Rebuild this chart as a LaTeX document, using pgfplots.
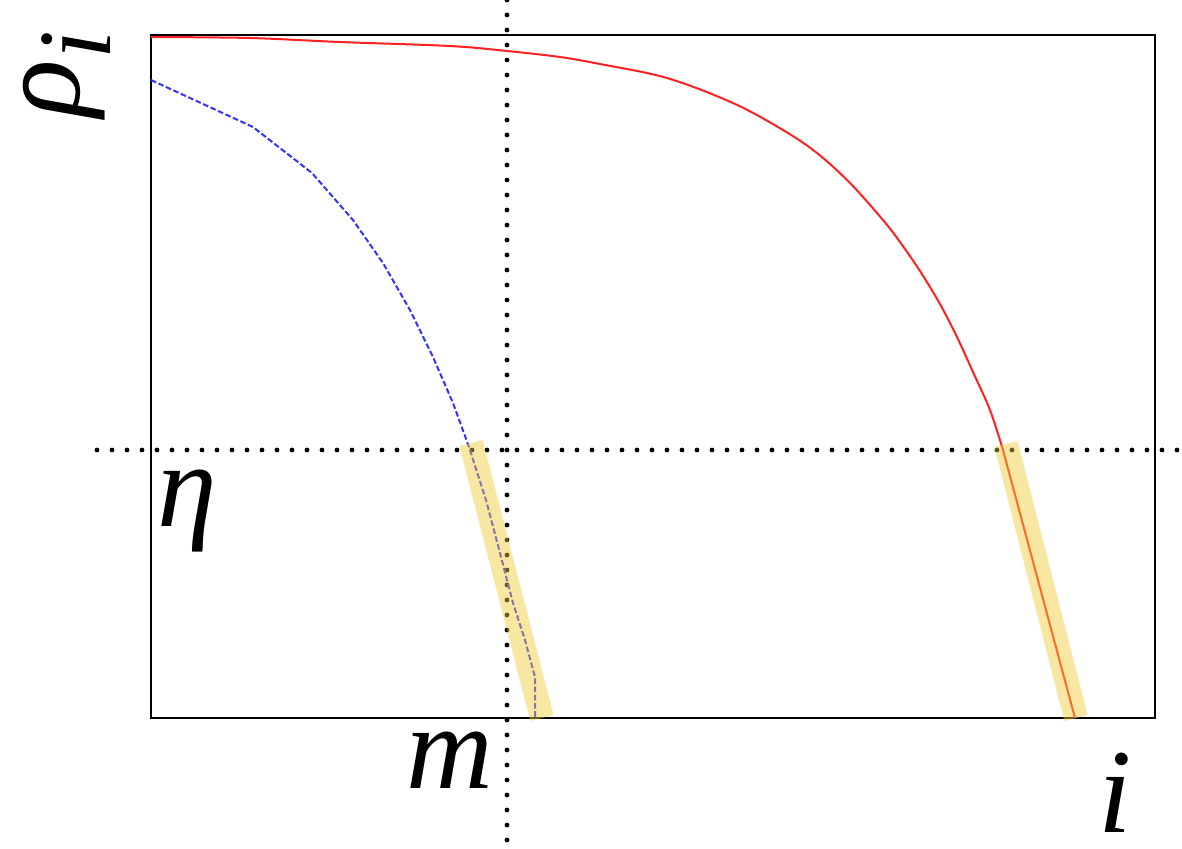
\documentclass[border=0pt]{standalone}
\usepackage{pgfplots}
\pgfplotsset{compat=1.18}
\usepackage{fontspec}
\setmainfont{Liberation Serif}

\definecolor{curvered}{rgb}{1.00,0.13,0.13}
\definecolor{curveblue}{rgb}{0.20,0.20,1.00}
\definecolor{bandgold}{rgb}{0.94,0.78,0.20}

\begin{document}
\begin{tikzpicture}
\begin{axis}[%
width=502pt,
height=341.5pt,
scale only axis,
xmin=151, xmax=1155,
ymin=35, ymax=718,
y dir=reverse,
xtick=\empty, ytick=\empty,
axis line style={line width=0.75pt},
clip=false,
]
% guide lines
\addplot[black, line width=2.4pt, line cap=round, dash pattern=on 0pt off 7.5pt] coordinates {(507,0) (507,848)};
\addplot[black, line width=2.4pt, line cap=round, dash pattern=on 0pt off 7.5pt] coordinates {(97,450) (1182,450)};

% red curve
\addplot[curvered, line width=1pt, smooth, tension=0.55] coordinates {
(151,37) (250,38) (340,42) (450,46) (507,51) (560,57) (600,64) (667,78) (733,103)
(783,130) (817,153) (850,183) (883,220) (900,242) (920,271) (940,304)
(957,337) (973,372) (990,410) (1003,450)
};
\addplot[curvered, line width=1pt] coordinates {(1003,450) (1075,718)};

% blue dashed curve
\addplot[curveblue, line width=1pt, dash pattern=on 2.8pt off 1.3pt] coordinates {
(151,80) (253,127) (312,173) (353,220) (383,263) (410,310) (433,357)
(453,403) (469,447) (486,500) (500,553) (513,603) (525,640) (535,677) (535,717)
};

% highlight bands
\addplot[bandgold, opacity=0.45, line width=12pt] coordinates {(471,443) (542,718)};
\addplot[bandgold, opacity=0.45, line width=12pt] coordinates {(1006,444) (1076,718)};

% labels
\node[rotate=90, anchor=center, font=\fontsize{60}{60}\selectfont\itshape]
  at (axis cs:67,74) {ρ\raisebox{-0.26em}{\fontsize{52}{52}\selectfont i}};
\node[anchor=base, font=\fontsize{60}{60}\selectfont\itshape] at (axis cs:187,526) {η};
\node[anchor=base, font=\fontsize{60}{60}\selectfont\itshape] at (axis cs:450,788) {m};
\node[anchor=base, font=\fontsize{60}{60}\selectfont\itshape] at (axis cs:1115,832) {i};

\coordinate (bl) at (axis cs:0,848);
\coordinate (tr) at (axis cs:1182,0);
\end{axis}
\pgfresetboundingbox
\path (bl) rectangle (tr);
\end{tikzpicture}
\end{document}
